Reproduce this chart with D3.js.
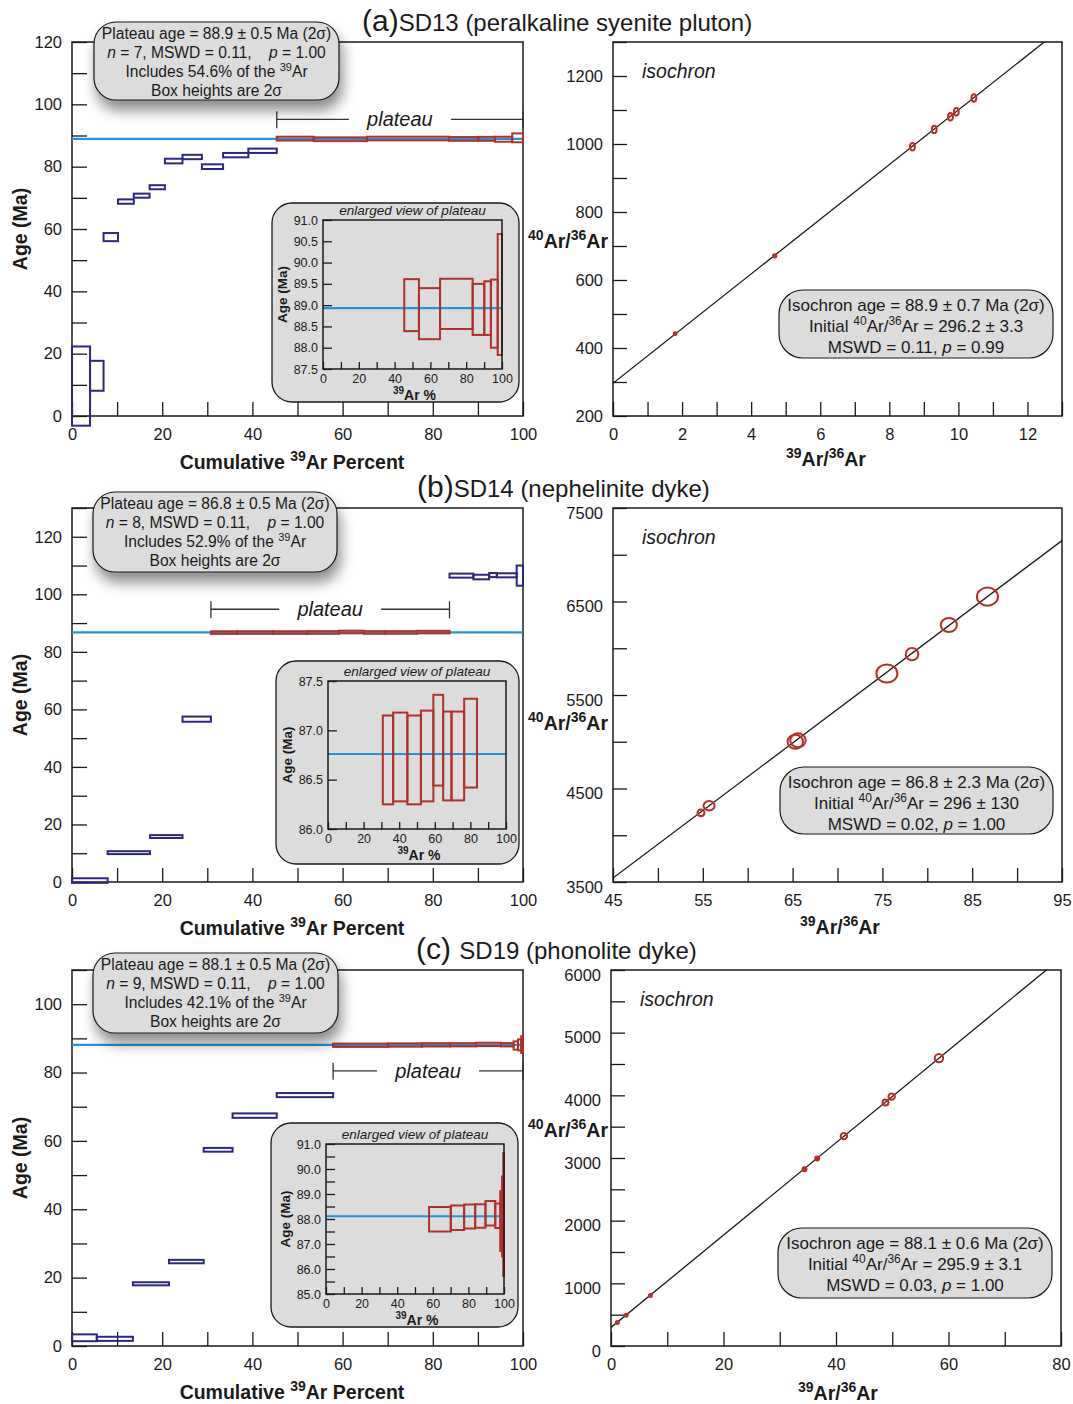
<!DOCTYPE html>
<html>
<head>
<meta charset="utf-8">
<title>40Ar/39Ar plateau and isochron diagrams</title>
<style type="text/css">
    body{ margin:0; background:#fff; }
    svg text{ font-family:"Liberation Sans", Arial, Helvetica, sans-serif; fill:#1a1a1a; }
</style>
</head>
<body>
<div id="chart"></div>

<script src="https://cdnjs.cloudflare.com/ajax/libs/d3/7.8.5/d3.min.js"></script>
<script type="text/javascript">

/*-----------------------------------------------------------------------
    data
-----------------------------------------------------------------------*/
var panelLetters = ['(a)', '(b)', '(c) '];
var sampleIds    = ['SD13', 'SD14', 'SD19'];
var sampleRocks  = ['peralkaline syenite pluton', 'nephelinite dyke', 'phonolite dyke'];

// step heating spectra: cumulative 39Ar % boundaries, step ages (Ma), 2 sigma half heights
var sd13StepPct = [0, 4.0, 7.0, 10.2, 13.7, 17.2, 20.6, 24.5, 28.8, 33.5, 39.1, 45.4, 53.6, 65.4, 83.6, 90.1, 93.8, 97.6, 100];
var sd13StepAge = [9.6, 12.9, 57.4, 68.8, 70.7, 73.4, 81.8, 83.1, 80.0, 83.7, 85.1, 89.0, 88.8, 89.03, 88.9, 88.93, 88.8, 89.25];
var sd13StepErr = [12.7, 4.8, 1.3, 0.7, 0.65, 0.65, 0.75, 0.7, 0.75, 0.7, 0.7, 0.61, 0.6, 0.59, 0.6, 0.63, 0.8, 1.42];

var sd14StepPct = [0, 7.9, 17.3, 24.5, 30.8, 36.6, 44.6, 52.2, 59.2, 64.7, 69.4, 76.5, 83.7, 89.0, 92.5, 94.2, 98.6, 100];
var sd14StepAge = [0.5, 10.2, 15.8, 56.6, 86.70, 86.73, 86.70, 86.74, 86.90, 86.74, 86.74, 86.87, 106.5, 106.0, 106.7, 106.6, 106.5];
var sd14StepErr = [0.8, 0.5, 0.5, 0.9, 0.45, 0.45, 0.45, 0.46, 0.46, 0.45, 0.45, 0.45, 0.7, 0.8, 0.7, 0.7, 3.5];

var sd19StepPct = [0, 5.5, 13.5, 21.5, 29.2, 35.6, 45.4, 57.9, 70.1, 77.6, 83.8, 89.6, 95.1, 97.9, 98.9, 99.6, 100];
var sd19StepAge = [2.4, 2.1, 18.2, 24.7, 57.4, 67.4, 73.4, 87.99, 88.05, 88.10, 88.12, 88.23, 88.13, 87.92, 88.1, 88.18];
var sd19StepErr = [1.0, 0.6, 0.45, 0.5, 0.55, 0.65, 0.6, 0.49, 0.49, 0.48, 0.47, 0.49, 0.49, 1.2, 1.6, 2.46];

// plateau statistics
var plateauFirst = [11, 4, 7];            // index of first plateau step
var plateauN     = [7, 8, 9];
var plateauMean  = [88.93, 86.76, 88.11];
var plateauErr   = [0.5, 0.5, 0.5];
var plateauMswd  = [0.11, 0.11, 0.11];
var plateauP     = [1.00, 1.00, 1.00];
var plateauPct   = [54.6, 52.9, 42.1];

// isochron points: 39Ar/36Ar, 40Ar/36Ar and 2 sigma errors
var sd13IsoX  = [1.80, 4.68, 8.67, 9.30, 9.77, 9.94, 10.45];
var sd13IsoY  = [442, 671, 992, 1043, 1080, 1095, 1135];
var sd13IsoSx = [0.04, 0.05, 0.07, 0.07, 0.07, 0.07, 0.07];
var sd13IsoSy = [4, 5, 11, 11, 11, 11, 11];

var sd14IsoX  = [54.8, 55.7, 65.3, 65.6, 75.5, 78.3, 82.4, 86.7];
var sd14IsoY  = [4240, 4315, 5000, 5015, 5730, 5937, 6248, 6552];
var sd14IsoSx = [0.39, 0.62, 0.86, 0.86, 1.17, 0.7, 0.9, 1.17];
var sd14IsoSy = [36, 50, 75, 75, 97, 65, 75, 97];

var sd19IsoX  = [1.13, 2.69, 7.0, 34.4, 36.65, 41.4, 48.8, 49.9, 58.3];
var sd19IsoY  = [374, 491, 807, 2821, 2991, 3349, 3884, 3980, 4594];
var sd19IsoSx = [0.27, 0.27, 0.27, 0.35, 0.35, 0.57, 0.53, 0.57, 0.75];
var sd19IsoSy = [24, 24, 24, 32, 32, 50, 48, 50, 67];

// isochron statistics
var isoAge    = [88.9, 86.8, 88.1];
var isoErr    = [0.7, 2.3, 0.6];
var isoInit   = [296.2, 296, 295.9];
var isoInitEr = [3.3, 130, 3.1];
var isoSlope  = [80.4, 72.16, 73.7];
var isoMswd   = [0.11, 0.02, 0.03];
var isoP      = [0.99, 1.00, 1.00];

// axis ranges
var ageMax      = [120, 130, 110];
var insetDomain = [[87.5, 91.0], [86.0, 87.5], [85.0, 91.0]];
var insetLabelStep = [0.5, 0.5, 1.0];
var isoXDomain  = [[0, 13], [45, 95], [0, 80]];
var isoXTick    = [1, 5, 10];
var isoXLabel   = [2, 10, 20];
var isoYDomain  = [[200, 1300], [3500, 7500], [0, 6000]];
var isoYTick    = [100, 500, 500];
var isoYLabel   = [200, 1000, 1000];

var stepPct = [sd13StepPct, sd14StepPct, sd19StepPct];
var stepAge = [sd13StepAge, sd14StepAge, sd19StepAge];
var stepErr = [sd13StepErr, sd14StepErr, sd19StepErr];
var isoX  = [sd13IsoX, sd14IsoX, sd19IsoX];
var isoY  = [sd13IsoY, sd14IsoY, sd19IsoY];
var isoSx = [sd13IsoSx, sd14IsoSx, sd19IsoSx];
var isoSy = [sd13IsoSy, sd14IsoSy, sd19IsoSy];

/*-----------------------------------------------------------------------
    layout
-----------------------------------------------------------------------*/
var width = 1073, height = 1404;
var ROWS = [{top:42, bottom:416}, {top:508, bottom:882}, {top:970, bottom:1346}];
var LEFT_X = [72, 523];
var RIGHT_X = [[613, 1062], [613, 1062], [611, 1061]];
var TITLE_X = [362, 417, 416];
var BRACKET_AGE = [95.2, 94.8, 80.5];
var INFO_BOX = [{x:94, y:22, w:245, h:78}, {x:93, y:492, w:244, h:80}, {x:93, y:953, w:245, h:80}];
var INSET_BOX = [{x:272, y:203, w:247, h:199}, {x:276, y:661, w:243, h:203}, {x:271, y:1123, w:247, h:204}];
var INSET_PLOT = [{l:323, r:502, t:220, b:369}, {l:328, r:506, t:681, b:829}, {l:326, r:504, t:1144, b:1294}];
var ISO_BOX = [{x:779, y:290, w:274, h:68}, {x:780, y:767, w:273, h:67}, {x:778, y:1228, w:274, h:70}];
var ISO_YLAB_Y = [248, 730, 1137];
var ISO_YTICK_DY = [0, 5, 5];
var ISO_XLAB = [{x:826, y:466}, {x:840, y:934}, {x:838, y:1400}];

var RED = '#b0302a', NAVY = '#2c2882', BLUE = '#2393de', GREY = '#dcdcdc', INK = '#1a1a1a';

var svg = d3.select('#chart').append('svg')
    .attr('width', width)
    .attr('height', height)
    .style('background-color', '#fff');

var defs = svg.append('defs');
defs.append('filter').attr('id', 'shadow')
    .attr('x', '-20%').attr('y', '-30%').attr('width', '150%').attr('height', '200%')
    .append('feDropShadow')
    .attr('dx', 3).attr('dy', 10).attr('stdDeviation', 7)
    .attr('flood-color', '#000').attr('flood-opacity', 0.45);

// text with italic / superscript pieces: parts = [[text, flags]], flags 'i' italic, 's' superscript
function richText(g, x, y, parts, size, weight, anchor){
    var t = g.append('text')
        .attr('x', x).attr('y', y)
        .attr('text-anchor', anchor || 'middle')
        .style('font-size', size + 'px')
        .style('font-weight', weight || 'normal')
        .style('white-space', 'pre');
    var shift = 0;
    parts.forEach(function(p){
        var flags = p[1] || '';
        var sup = flags.indexOf('s') >= 0;
        var target = sup ? -Math.round(size * 0.4) : 0;
        var s = t.append('tspan').text(p[0]).attr('dy', target - shift);
        shift = target;
        if (sup) s.style('font-size', Math.round(size * 0.7) + 'px');
        if (flags.indexOf('i') >= 0) s.style('font-style', 'italic');
    });
    return t;
}

function styleAxis(ax, fontSize){
    ax.select('.domain').remove();
    ax.attr('font-family', null).attr('font-size', null);
    ax.selectAll('line').attr('stroke', INK).attr('stroke-width', 1.3);
    ax.selectAll('text').style('font-size', fontSize + 'px').attr('fill', INK);
}

function frame(g, x0, x1, y0, y1, w){
    g.append('rect')
        .attr('x', x0).attr('y', y1).attr('width', x1 - x0).attr('height', y0 - y1)
        .attr('fill', 'none').attr('stroke', INK).attr('stroke-width', w || 1.5);
}

/*-----------------------------------------------------------------------
    age spectrum panel
-----------------------------------------------------------------------*/
function drawSpectrum(i){
    var row = ROWS[i];
    var g = svg.append('g');
    var x = d3.scaleLinear().domain([0, 100]).range(LEFT_X);
    var y = d3.scaleLinear().domain([0, ageMax[i]]).range([row.bottom, row.top]);
    var pct = stepPct[i], age = stepAge[i], err = stepErr[i];
    var p0 = plateauFirst[i], p1 = p0 + plateauN[i] - 1;

    g.append('g').attr('transform', 'translate(' + LEFT_X[0] + ',0)')
        .call(d3.axisLeft(y).tickValues(d3.range(0, ageMax[i] + 0.1, 10))
            .tickSize(-15).tickPadding(10)
            .tickFormat(function(d){ return d % 20 === 0 ? d : ''; }))
        .call(styleAxis, 16.5);

    g.append('g').attr('transform', 'translate(0,' + row.bottom + ')')
        .call(d3.axisBottom(x).tickValues(d3.range(0, 101, 10))
            .tickSize(-14).tickPadding(12)
            .tickFormat(function(d){ return d % 20 === 0 ? d : ''; }))
        .call(styleAxis, 16.5);

    frame(g, LEFT_X[0], LEFT_X[1], row.bottom, row.top);

    // plateau mean line
    g.append('line')
        .attr('x1', x(0)).attr('x2', x(100))
        .attr('y1', y(plateauMean[i])).attr('y2', y(plateauMean[i]))
        .attr('stroke', BLUE).attr('stroke-width', 2.2);

    g.selectAll('rect.step')
        .data(d3.range(age.length))
        .enter().append('rect')
        .attr('class', 'step')
        .attr('x', function(k){ return x(pct[k]); })
        .attr('width', function(k){ return x(pct[k + 1]) - x(pct[k]); })
        .attr('y', function(k){ return y(age[k] + err[k]); })
        .attr('height', function(k){ return y(age[k] - err[k]) - y(age[k] + err[k]); })
        .attr('fill', 'none')
        .attr('stroke', function(k){ return (k >= p0 && k <= p1) ? RED : NAVY; })
        .attr('stroke-width', 2);

    // plateau bracket
    var by = y(BRACKET_AGE[i]), xa = x(pct[p0]), xb = x(pct[p1 + 1]), xm = (xa + xb) / 2;
    var br = g.append('g').attr('stroke', '#333').attr('stroke-width', 1.3);
    br.append('line').attr('x1', xa).attr('x2', xm - 51).attr('y1', by).attr('y2', by);
    br.append('line').attr('x1', xm + 51).attr('x2', xb).attr('y1', by).attr('y2', by);
    br.append('line').attr('x1', xa).attr('x2', xa).attr('y1', by - 8).attr('y2', by + 9);
    br.append('line').attr('x1', xb).attr('x2', xb).attr('y1', by - 8).attr('y2', by + 9);
    g.append('text').attr('x', xm).attr('y', by + 7).attr('text-anchor', 'middle')
        .style('font-size', '20px').style('font-style', 'italic').text('plateau');

    // axis titles
    g.append('text')
        .attr('transform', 'translate(27,' + ((row.top + row.bottom) / 2) + ') rotate(-90)')
        .attr('text-anchor', 'middle')
        .style('font-size', '19.5px').style('font-weight', 'bold')
        .text('Age (Ma)');
    richText(g, 292, row.bottom + 53, [['Cumulative '], ['39', 's'], ['Ar Percent']], 19.5, 'bold');

    drawInset(i, pct, age, err, p0, p1);

    // statistics box
    var b = INFO_BOX[i];
    g.append('rect')
        .attr('x', b.x).attr('y', b.y).attr('width', b.w).attr('height', b.h)
        .attr('rx', 22).attr('ry', 22)
        .attr('fill', GREY).attr('stroke', INK).attr('stroke-width', 1.2)
        .attr('filter', 'url(#shadow)');
    var cx = b.x + b.w / 2;
    var fs = 15.6;
    richText(g, cx, b.y + 17, [['Plateau age = ' + plateauMean[i].toFixed(1) + ' \u00b1 ' + plateauErr[i].toFixed(1) + ' Ma (2\u03c3)']], fs);
    richText(g, cx, b.y + 36, [['n', 'i'], [' = ' + plateauN[i] + ', MSWD = ' + plateauMswd[i].toFixed(2) + ',    '], ['p', 'i'], [' = ' + plateauP[i].toFixed(2)]], fs);
    richText(g, cx, b.y + 55, [['Includes ' + plateauPct[i].toFixed(1) + '% of the '], ['39', 's'], ['Ar']], fs);
    richText(g, cx, b.y + 74, [['Box heights are 2\u03c3']], fs);
}

/*-----------------------------------------------------------------------
    enlarged view of plateau
-----------------------------------------------------------------------*/
function drawInset(i, pct, age, err, p0, p1){
    var B = INSET_BOX[i], P = INSET_PLOT[i];
    var g = svg.append('g');
    g.append('rect')
        .attr('x', B.x).attr('y', B.y).attr('width', B.w).attr('height', B.h)
        .attr('rx', 20).attr('ry', 20)
        .attr('fill', GREY).attr('stroke', INK).attr('stroke-width', 1.3);

    var x = d3.scaleLinear().domain([0, 100]).range([P.l, P.r]);
    var y = d3.scaleLinear().domain(insetDomain[i]).range([P.b, P.t]);
    var lo = insetDomain[i][0], step = insetLabelStep[i];

    g.append('g').attr('transform', 'translate(' + P.l + ',0)')
        .call(d3.axisLeft(y).tickValues(d3.range(lo, insetDomain[i][1] + 0.01, 0.5))
            .tickSize(-9).tickPadding(5)
            .tickFormat(function(d){
                var k = Math.round((d - lo) / step * 1000) / 1000;
                return k === Math.round(k) ? d.toFixed(1) : '';
            }))
        .call(styleAxis, 12.5);

    g.append('g').attr('transform', 'translate(0,' + P.b + ')')
        .call(d3.axisBottom(x).tickValues(d3.range(0, 101, 10))
            .tickSize(-7).tickPadding(5)
            .tickFormat(function(d){ return d % 20 === 0 ? d : ''; }))
        .call(styleAxis, 12.5);

    g.append('line')
        .attr('x1', P.l).attr('x2', P.r)
        .attr('y1', y(plateauMean[i])).attr('y2', y(plateauMean[i]))
        .attr('stroke', BLUE).attr('stroke-width', 2.2);

    g.selectAll('rect.pstep')
        .data(d3.range(p0, p1 + 1))
        .enter().append('rect')
        .attr('class', 'pstep')
        .attr('x', function(k){ return x(pct[k]); })
        .attr('width', function(k){ return x(pct[k + 1]) - x(pct[k]); })
        .attr('y', function(k){ return y(age[k] + err[k]); })
        .attr('height', function(k){ return y(age[k] - err[k]) - y(age[k] + err[k]); })
        .attr('fill', 'none').attr('stroke', RED).attr('stroke-width', 2);

    frame(g, P.l, P.r, P.b, P.t, 1.5);

    g.append('text').attr('x', (P.l + P.r) / 2).attr('y', P.t - 5).attr('text-anchor', 'middle')
        .style('font-size', '13.5px').style('font-style', 'italic').text('enlarged view of plateau');
    g.append('text')
        .attr('transform', 'translate(' + (P.l - 36) + ',' + ((P.t + P.b) / 2) + ') rotate(-90)')
        .attr('text-anchor', 'middle')
        .style('font-size', '13.5px').style('font-weight', 'bold').text('Age (Ma)');
    richText(g, (P.l + P.r) / 2 + 2, P.b + 31, [['39', 's'], ['Ar %']], 14, 'bold');
}

/*-----------------------------------------------------------------------
    isochron panel
-----------------------------------------------------------------------*/
function drawIsochron(i){
    var row = ROWS[i], xr = RIGHT_X[i];
    var g = svg.append('g');
    var x = d3.scaleLinear().domain(isoXDomain[i]).range(xr);
    var y = d3.scaleLinear().domain(isoYDomain[i]).range([row.bottom, row.top]);
    var x0 = isoXDomain[i][0], y0 = isoYDomain[i][0];

    g.append('g').attr('transform', 'translate(' + xr[0] + ',0)')
        .call(d3.axisLeft(y).tickValues(d3.range(y0, isoYDomain[i][1] + 1, isoYTick[i]))
            .tickSize(-14).tickPadding(10)
            .tickFormat(function(d){ return (d - y0) % isoYLabel[i] === 0 ? d : ''; }))
        .call(styleAxis, 16.5)
        .selectAll('text').attr('transform', 'translate(0,' + ISO_YTICK_DY[i] + ')');

    g.append('g').attr('transform', 'translate(0,' + row.bottom + ')')
        .call(d3.axisBottom(x).tickValues(d3.range(x0, isoXDomain[i][1] + 0.01, isoXTick[i]))
            .tickSize(-14).tickPadding(12)
            .tickFormat(function(d){ return (d - x0) % isoXLabel[i] === 0 ? d : ''; }))
        .call(styleAxis, 16.5);

    frame(g, xr[0], xr[1], row.bottom, row.top);

    var clipId = 'iso-clip-' + i;
    defs.append('clipPath').attr('id', clipId).append('rect')
        .attr('x', xr[0]).attr('y', row.top).attr('width', xr[1] - xr[0]).attr('height', row.bottom - row.top);

    var xa = isoXDomain[i][0], xb = isoXDomain[i][1];
    g.append('line')
        .attr('clip-path', 'url(#' + clipId + ')')
        .attr('x1', x(xa)).attr('y1', y(isoInit[i] + isoSlope[i] * xa))
        .attr('x2', x(xb)).attr('y2', y(isoInit[i] + isoSlope[i] * xb))
        .attr('stroke', INK).attr('stroke-width', 1.3);

    var px = isoX[i], py = isoY[i], sx = isoSx[i], sy = isoSy[i];
    g.selectAll('ellipse')
        .data(d3.range(px.length))
        .enter().append('ellipse')
        .attr('cx', function(k){ return x(px[k]); })
        .attr('cy', function(k){ return y(py[k]); })
        .attr('rx', function(k){ return Math.abs(x(px[k] + sx[k]) - x(px[k])); })
        .attr('ry', function(k){ return Math.abs(y(py[k]) - y(py[k] + sy[k])); })
        .attr('fill', function(k){ return Math.abs(x(px[k] + sx[k]) - x(px[k])) < 2.2 ? RED : 'none'; })
        .attr('stroke', RED).attr('stroke-width', 2);

    g.append('text').attr('x', xr[0] + 29).attr('y', row.top + 36)
        .style('font-size', '19.5px').style('font-style', 'italic').text('isochron');

    richText(g, 608, ISO_YLAB_Y[i], [['40', 's'], ['Ar/'], ['36', 's'], ['Ar']], 19.5, 'bold', 'end');
    richText(g, ISO_XLAB[i].x, ISO_XLAB[i].y, [['39', 's'], ['Ar/'], ['36', 's'], ['Ar']], 19.5, 'bold');

    var b = ISO_BOX[i];
    g.append('rect')
        .attr('x', b.x).attr('y', b.y).attr('width', b.w).attr('height', b.h)
        .attr('rx', 24).attr('ry', 24)
        .attr('fill', GREY).attr('stroke', INK).attr('stroke-width', 1.2);
    var cx = b.x + b.w / 2;
    var fs = 17;
    richText(g, cx, b.y + 21, [['Isochron age = ' + isoAge[i].toFixed(1) + ' \u00b1 ' + isoErr[i].toFixed(1) + ' Ma (2\u03c3)']], fs);
    richText(g, cx, b.y + 42, [['Initial '], ['40', 's'], ['Ar/'], ['36', 's'], ['Ar = ' + String(isoInit[i]) + ' \u00b1 ' + String(isoInitEr[i])]], fs);
    richText(g, cx, b.y + 63, [['MSWD = ' + isoMswd[i].toFixed(2) + ', '], ['p', 'i'], [' = ' + isoP[i].toFixed(2)]], fs);
}

/*-----------------------------------------------------------------------*/
for (var i = 0; i < 3; i++){
    drawSpectrum(i);
    drawIsochron(i);

    var t = svg.append('text')
        .attr('x', TITLE_X[i]).attr('y', ROWS[i].top - 11)
        .style('white-space', 'pre');
    t.append('tspan').style('font-size', '30px').text(panelLetters[i]);
    t.append('tspan').style('font-size', '24px').text(sampleIds[i] + ' (' + sampleRocks[i] + ')');
}

</script>
</body>
</html>
